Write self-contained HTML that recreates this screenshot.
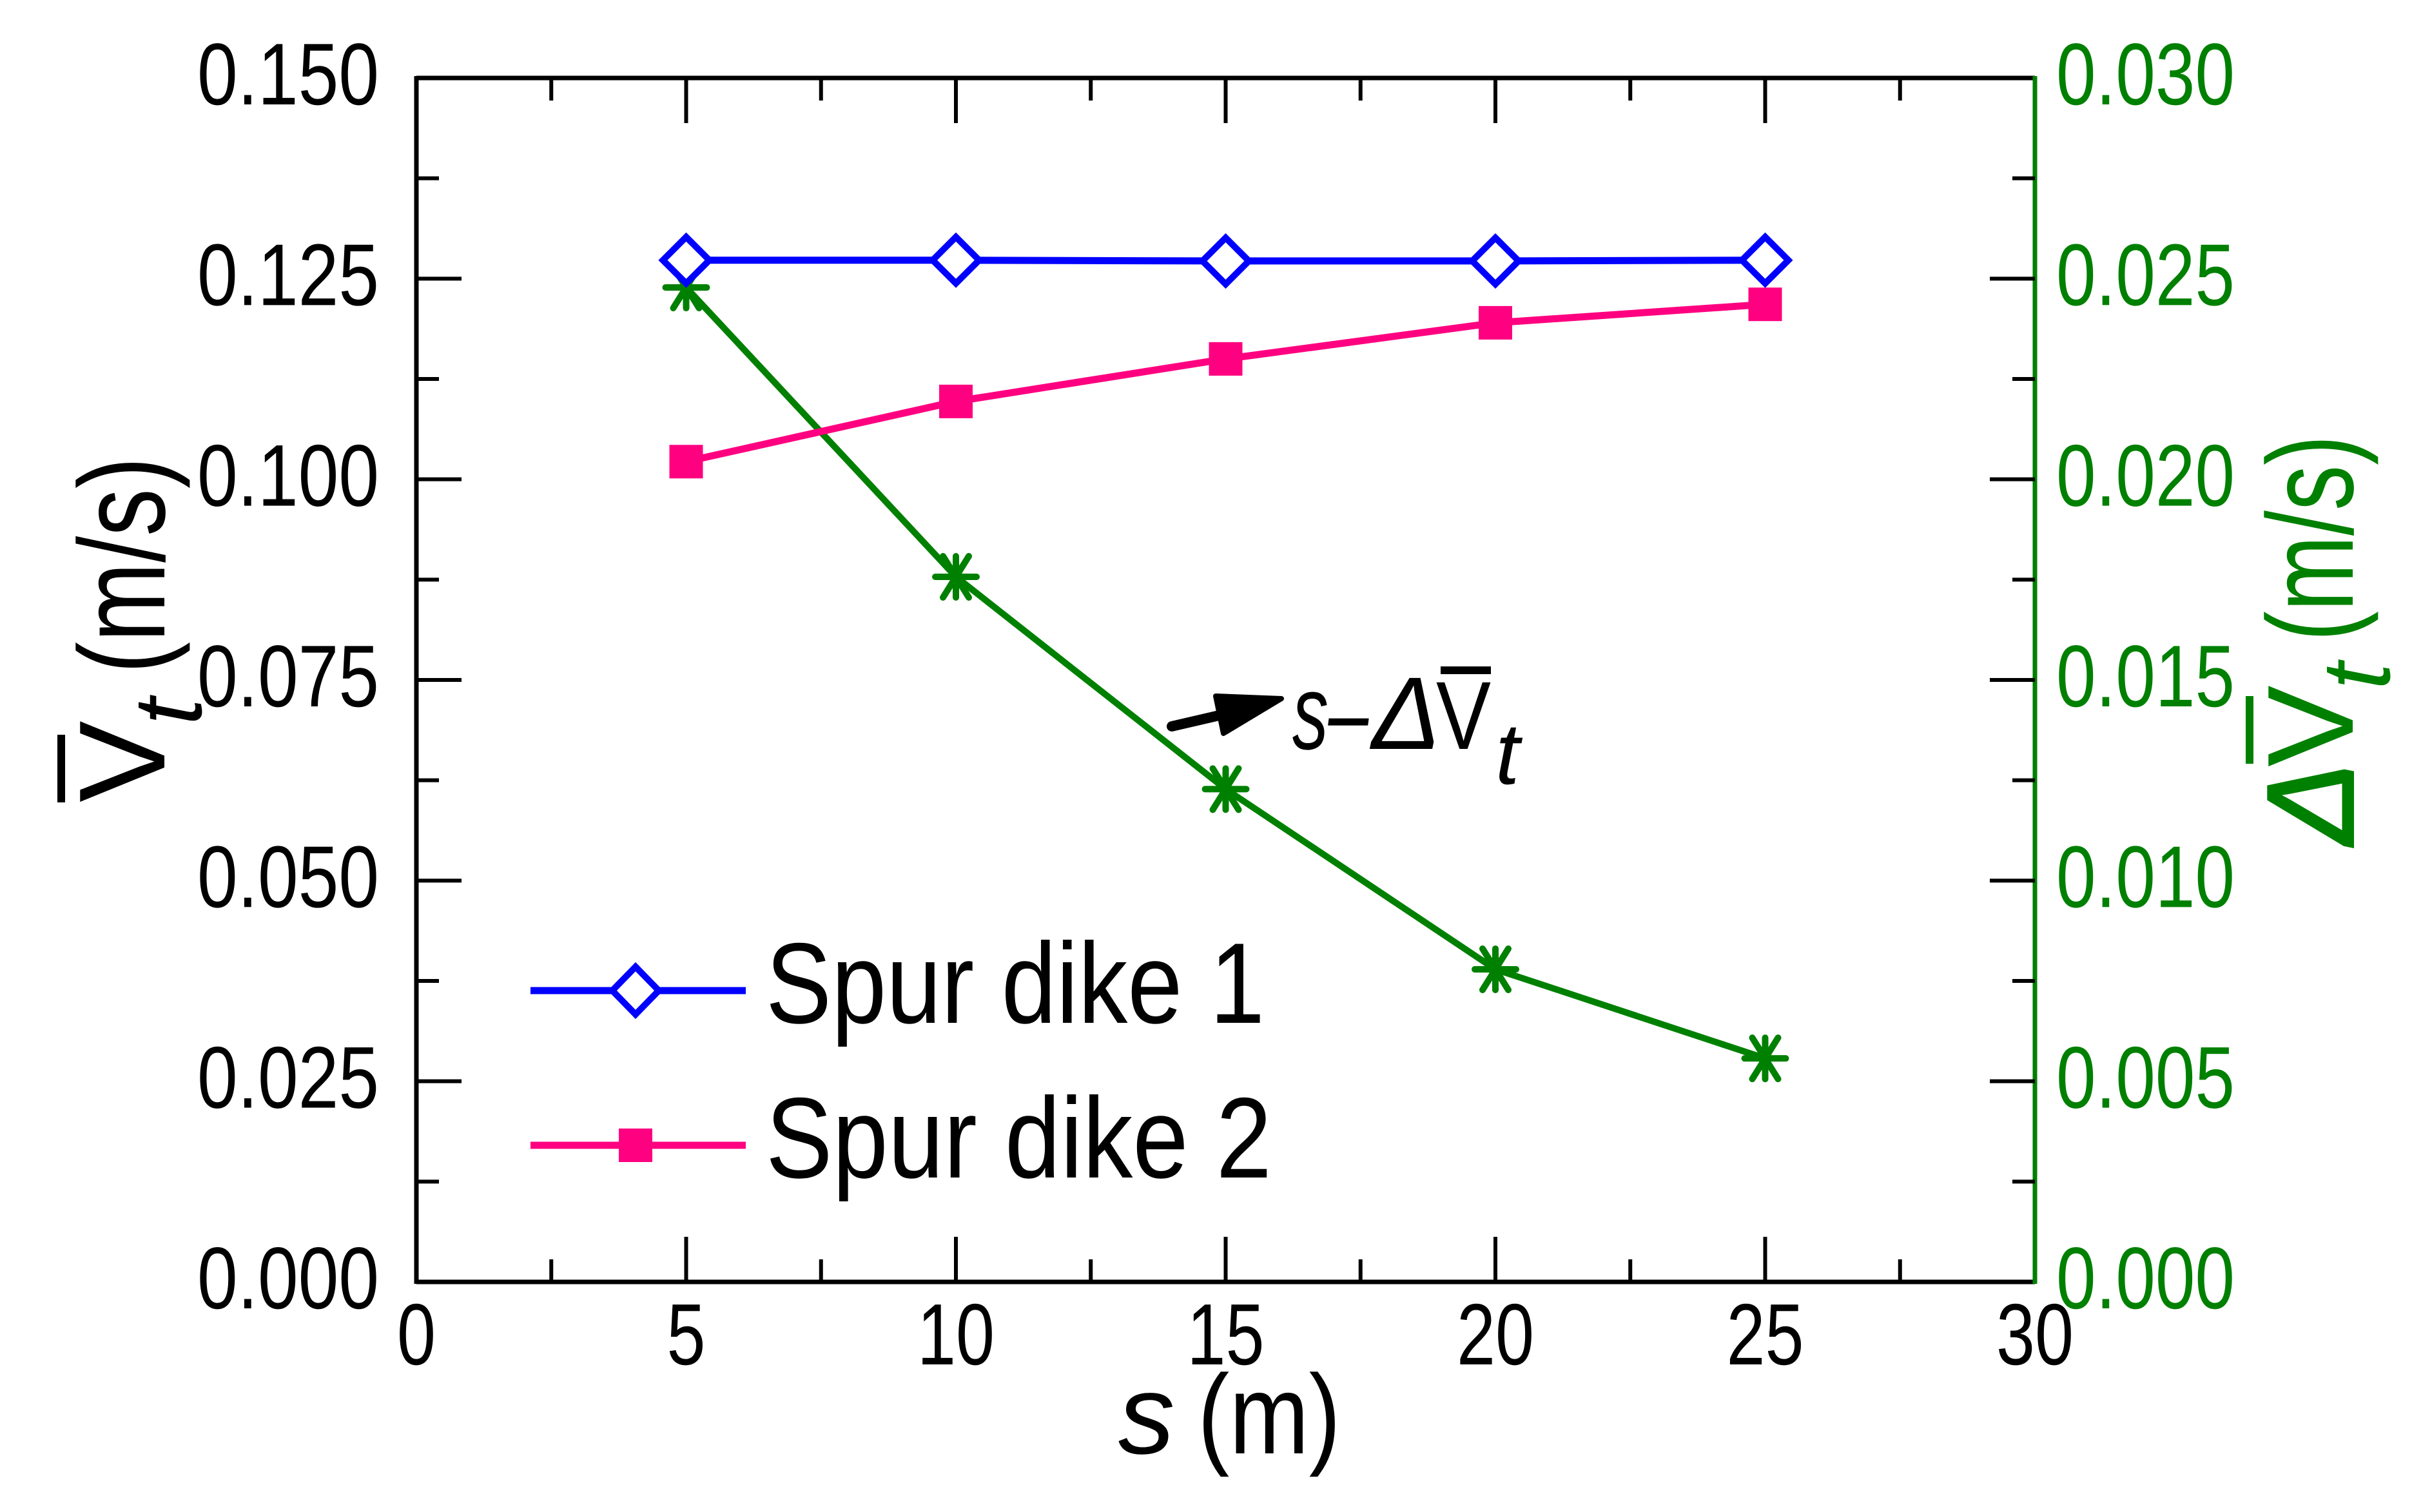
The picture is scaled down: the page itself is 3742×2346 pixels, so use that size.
<!DOCTYPE html>
<html><head><meta charset="utf-8"><style>
html,body{margin:0;padding:0;background:#fff}
svg{display:block}
text{font-family:"Liberation Sans",sans-serif}
</style></head><body>
<svg id="chart" width="3742" height="2346" viewBox="0 0 3742 2346" xmlns="http://www.w3.org/2000/svg">
<g id="grid"></g>
<g id="series"></g>
<g id="axes"></g>
<!-- left axis title -->
<g transform="translate(255,1245) rotate(-90)">
  <text x="0" y="0" font-size="190" fill="#000">V</text>
  <line x1="0" y1="-160" x2="105" y2="-160" stroke="#000" stroke-width="12"/>
  <text x="120" y="57" font-size="150" font-style="italic" fill="#000">t</text>
  <text x="200" y="0" font-size="190" fill="#000" textLength="336" lengthAdjust="spacingAndGlyphs">(m/s)</text>
</g>
<!-- right axis title -->
<g transform="translate(3650,1310) rotate(-90)">
  <text x="0" y="0" font-size="190" font-style="italic" fill="#008000" stroke="#008000" stroke-width="4">Δ</text>
  <text x="120" y="0" font-size="190" fill="#008000">V</text>
  <line x1="125" y1="-160" x2="230" y2="-160" stroke="#008000" stroke-width="12"/>
  <text x="240" y="57" font-size="150" font-style="italic" fill="#008000">t</text>
  <text x="315" y="0" font-size="190" fill="#008000" textLength="320" lengthAdjust="spacingAndGlyphs">(m/s)</text>
</g>
<!-- x axis title -->
<g>
  <text x="1735" y="2255" font-size="175" font-style="italic" fill="#000">s</text>
  <text x="1858" y="2255" font-size="175" fill="#000" textLength="222" lengthAdjust="spacingAndGlyphs">(m)</text>
</g>
<!-- legend -->
<g>
  <g>
    <line x1="823" y1="1537" x2="1157" y2="1537" stroke="#0000ff" stroke-width="11"/>
    <polygon points="986,1500 1022,1537 986,1574 950,1537" fill="#fff" stroke="#0000ff" stroke-width="10"/>
    <text x="1188" y="1587" font-size="178" fill="#000" textLength="774" lengthAdjust="spacingAndGlyphs">Spur dike 1</text>
  </g>
  <g>
    <line x1="823" y1="1777" x2="1157" y2="1777" stroke="#ff0080" stroke-width="11"/>
    <rect x="960" y="1751" width="52" height="52" fill="#ff0080"/>
    <text x="1188" y="1827" font-size="178" fill="#000" textLength="785" lengthAdjust="spacingAndGlyphs">Spur dike 2</text>
  </g>
</g>
<!-- annotation -->
<g>
  <line x1="1818" y1="1127" x2="1900" y2="1108" stroke="#000" stroke-width="16" stroke-linecap="round"/>
  <polygon points="1886,1080 1988,1084 1898,1138" fill="#000" stroke="#000" stroke-width="8" stroke-linejoin="round"/>
  <text x="2005" y="1162" font-size="165" font-style="italic" fill="#000" textLength="118" lengthAdjust="spacingAndGlyphs">s–</text>
  <text x="2128" y="1162" font-size="160" font-style="italic" fill="#000">Δ</text>
  <text x="2228" y="1162" font-size="150" fill="#000" textLength="85" lengthAdjust="spacingAndGlyphs">V</text>
  <line x1="2235" y1="1040" x2="2313" y2="1040" stroke="#000" stroke-width="12"/>
  <text x="2320" y="1216" font-size="135" font-style="italic" fill="#000">t</text>
</g>
</svg>
<script>
const xValues = [5, 10, 15, 20, 25];
const spurDike1 = [0.1273, 0.1273, 0.1272, 0.1272, 0.1273];
const spurDike2 = [0.1022, 0.1097, 0.1150, 0.1195, 0.1218];
const deltaVt = [0.02478, 0.01757, 0.01228, 0.00779, 0.00557];
const xTicks = [0, 5, 10, 15, 20, 25, 30];
const yLeftTicks = ["0.000","0.025","0.050","0.075","0.100","0.125","0.150"];
const yRightTicks = ["0.000","0.005","0.010","0.015","0.020","0.025","0.030"];

const L=646, R=3157, T=121, B=1989;
const NS='http://www.w3.org/2000/svg';
function sx(v){return L+(v-0)/30*(R-L);}
function syL(v){return B-(v/0.15)*(B-T);}
function syR(v){return B-(v/0.03)*(B-T);}
function mk(tag, attrs, parent){const e=document.createElementNS(NS,tag);for(const k in attrs)e.setAttribute(k,attrs[k]);parent.appendChild(e);return e;}
const axes=document.getElementById('axes');
const series=document.getElementById('series');

let fr=mk('line',{x1:L,y1:T,x2:R,y2:T,stroke:'#000','stroke-width':7},axes);


fr=mk('line',{x1:L,y1:T-3,x2:L,y2:B+3,stroke:'#000','stroke-width':7},axes);


fr=mk('line',{x1:L,y1:B,x2:R,y2:B,stroke:'#000','stroke-width':7},axes);


fr=mk('line',{x1:R,y1:T-3,x2:R,y2:B+3,stroke:'#008000','stroke-width':7},axes);



for(let i=0;i<=12;i++){
  const v=i*2.5, x=sx(v), len=(i%2===0)?70:35;
  if(i>0&&i<12){
    mk('line',{x1:x,y1:B,x2:x,y2:B-len,stroke:'#000','stroke-width':6},axes);
    mk('line',{x1:x,y1:T,x2:x,y2:T+len,stroke:'#000','stroke-width':6},axes);
  }
}
xTicks.forEach(v=>{
  const s=String(v);
  const t=mk('text',{x:sx(v),y:2117,'font-size':135,'text-anchor':'middle',fill:'#000',textLength:s.length*60,lengthAdjust:'spacingAndGlyphs'},axes);
  t.textContent=s;
  
  
});
for(let i=0;i<=12;i++){
  const y=B-i*(B-T)/12, len=(i%2===0)?70:35;
  if(i>0&&i<12){
    mk('line',{x1:L,y1:y,x2:L+len,y2:y,stroke:'#000','stroke-width':6},axes);
    mk('line',{x1:R,y1:y,x2:R-len,y2:y,stroke:'#000','stroke-width':6},axes);
  }
}
yLeftTicks.forEach((lab,i)=>{
  const v=parseFloat(lab);
  const t=mk('text',{x:588,y:syL(v)+41,'font-size':136,'text-anchor':'end',fill:'#000',textLength:282,lengthAdjust:'spacingAndGlyphs'},axes);
  t.textContent=lab;
  
  
});
yRightTicks.forEach((lab,i)=>{
  const v=parseFloat(lab);
  const t=mk('text',{x:3190,y:syR(v)+41,'font-size':136,fill:'#008000',textLength:277,lengthAdjust:'spacingAndGlyphs'},axes);
  t.textContent=lab;
  
  
});

function poly(vals, fy, color, w, name){
  const p=mk('polyline',{points:xValues.map((x,i)=>sx(x)+','+fy(vals[i])).join(' '),fill:'none',stroke:color,'stroke-width':w,'stroke-linejoin':'round'},series);
  
  
}
poly(deltaVt, syR, '#008000', 10, 'delta-vt-line');
poly(spurDike2, syL, '#ff0080', 11, 'spur-dike-2-line');
poly(spurDike1, syL, '#0000ff', 11, 'spur-dike-1-line');

deltaVt.forEach((v,i)=>{
  const cx=sx(xValues[i]), cy=syR(v);
  const g=mk('g',{stroke:'#008000','stroke-width':10,'stroke-linecap':'round'},series);
  
  
  mk('line',{x1:cx,y1:cy-32,x2:cx,y2:cy+32},g);
  mk('line',{x1:cx-32,y1:cy,x2:cx+32,y2:cy},g);
  mk('line',{x1:cx-20,y1:cy-32,x2:cx+20,y2:cy+32},g);
  mk('line',{x1:cx+20,y1:cy-32,x2:cx-20,y2:cy+32},g);
});
spurDike2.forEach((v,i)=>{
  const cx=sx(xValues[i]), cy=syL(v);
  const r=mk('rect',{x:cx-26,y:cy-26,width:52,height:52,fill:'#ff0080'},series);
  
  
});
spurDike1.forEach((v,i)=>{
  const cx=sx(xValues[i]), cy=syL(v);
  const d=mk('polygon',{points:`${cx},${cy-36} ${cx+36},${cy} ${cx},${cy+36} ${cx-36},${cy}`,fill:'#fff',stroke:'#0000ff','stroke-width':10},series);
  
  
});
</script>
</body></html>
